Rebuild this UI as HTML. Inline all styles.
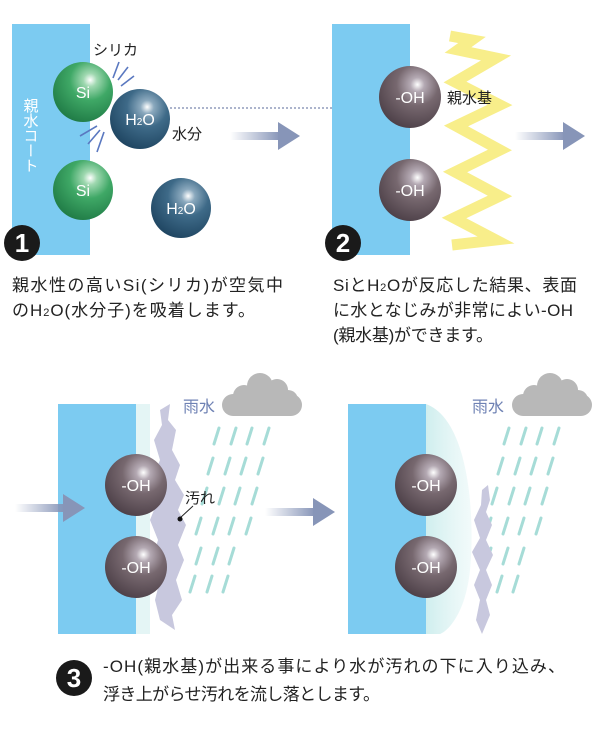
<!DOCTYPE html>
<html><head><meta charset="utf-8"><style>
body{margin:0;background:#fff;}
svg{display:block}
text{font-family:"Liberation Sans","Noto Sans CJK JP",sans-serif;}
</style></head><body>
<svg width="600" height="730" viewBox="0 0 600 730" xmlns="http://www.w3.org/2000/svg">
<defs>
<radialGradient id="g" cx="0.62" cy="0.3" r="0.75"><stop offset="0" stop-color="#fff"/><stop offset="0.15" stop-color="#9fd8b0"/><stop offset="0.45" stop-color="#3fa866"/><stop offset="1" stop-color="#1f7a45"/></radialGradient>
<radialGradient id="b" cx="0.62" cy="0.3" r="0.75"><stop offset="0" stop-color="#fff"/><stop offset="0.15" stop-color="#8aa8bd"/><stop offset="0.45" stop-color="#3e6a88"/><stop offset="1" stop-color="#1e4460"/></radialGradient>
<radialGradient id="o" cx="0.62" cy="0.3" r="0.75"><stop offset="0" stop-color="#fff"/><stop offset="0.15" stop-color="#b4a9b3"/><stop offset="0.45" stop-color="#77686f"/><stop offset="1" stop-color="#4c3f47"/></radialGradient>
<linearGradient id="ar" x1="0" x2="1"><stop offset="0" stop-color="#8795b8" stop-opacity="0"/><stop offset="1" stop-color="#8795b8"/></linearGradient>
<linearGradient id="wt" x1="0" x2="1"><stop offset="0" stop-color="#cfeeee"/><stop offset="1" stop-color="#e9f7f7" stop-opacity="0.6"/></linearGradient>
<g id="arrow"><rect x="0" y="-4" width="50" height="8" fill="url(#ar)"/><polygon points="48,-14 70,0 48,14" fill="#8795b8"/></g>
<g id="rain" stroke="#a6dcd7" stroke-width="3" stroke-linecap="round">
<line x1="219" y1="428" x2="214" y2="444"/><line x1="236" y1="428" x2="231" y2="444"/><line x1="252" y1="428" x2="247" y2="444"/><line x1="269" y1="428" x2="264" y2="444"/>
<line x1="213" y1="458" x2="208" y2="474"/><line x1="230" y1="458" x2="225" y2="474"/><line x1="246" y1="458" x2="241" y2="474"/><line x1="263" y1="458" x2="258" y2="474"/>
<line x1="207" y1="488" x2="202" y2="504"/><line x1="224" y1="488" x2="219" y2="504"/><line x1="240" y1="488" x2="235" y2="504"/><line x1="257" y1="488" x2="252" y2="504"/>
<line x1="201" y1="518" x2="196" y2="534"/><line x1="218" y1="518" x2="213" y2="534"/><line x1="234" y1="518" x2="229" y2="534"/><line x1="251" y1="518" x2="246" y2="534"/>
<line x1="201" y1="548" x2="196" y2="564"/><line x1="218" y1="548" x2="213" y2="564"/><line x1="234" y1="548" x2="229" y2="564"/>
<line x1="195" y1="576" x2="190" y2="592"/><line x1="212" y1="576" x2="207" y2="592"/><line x1="228" y1="576" x2="223" y2="592"/>
</g>
<g id="cloud" fill="#b8b8b8"><rect x="0" y="22" width="80" height="22" rx="11"/><circle cx="22" cy="24" r="11"/><circle cx="38" cy="14" r="13"/><circle cx="55" cy="18" r="11"/><circle cx="66" cy="28" r="10"/></g>
</defs>

<!-- Panel 1 -->
<rect x="12" y="24" width="78" height="231" fill="#7ccbf1"/>
<text x="30" y="98" font-size="15" fill="#fff" style="writing-mode:vertical-rl">親水コート</text>
<g stroke="#5a78c0" stroke-width="1.6" fill="none">
<line x1="113" y1="78" x2="119" y2="62"/><line x1="118" y1="80" x2="128" y2="67"/><line x1="121" y1="86" x2="134" y2="76"/>
<line x1="97" y1="126" x2="80" y2="136"/><line x1="100" y1="130" x2="88" y2="144"/><line x1="104" y1="132" x2="97" y2="152"/>
</g>
<line x1="170" y1="108" x2="372" y2="108" stroke="#5a6a9a" stroke-width="1" stroke-dasharray="2,2"/>
<polyline points="366,103 372,108 366,113" fill="none" stroke="#5a6a9a"/>
<circle cx="83" cy="92" r="30" fill="url(#g)"/>
<circle cx="83" cy="190" r="30" fill="url(#g)"/>
<circle cx="140" cy="119" r="30" fill="url(#b)"/>
<circle cx="181" cy="208" r="30" fill="url(#b)"/>
<g fill="#fff" font-size="16" text-anchor="middle">
<text x="83" y="98">Si</text><text x="83" y="196">Si</text>
<text x="140" y="125">H<tspan font-size="10">2</tspan>O</text><text x="181" y="214">H<tspan font-size="10">2</tspan>O</text>
</g>
<text x="93" y="55" font-size="15" fill="#222">シリカ</text>
<text x="172" y="139" font-size="15" fill="#222">水分</text>
<use href="#arrow" x="230" y="136"/>
<circle cx="22" cy="243" r="18" fill="#1a1a1a"/>
<text x="22" y="252" font-size="26" font-weight="bold" fill="#fff" text-anchor="middle">1</text>
<text x="12" y="291" font-size="17" fill="#222" textLength="271" lengthAdjust="spacing">親水性の高いSi(シリカ)が空気中</text>
<text x="12" y="316" font-size="17" fill="#222" textLength="243" lengthAdjust="spacing">のH<tspan font-size="11">2</tspan>O(水分子)を吸着します。</text>

<!-- Panel 2 -->
<rect x="332" y="24" width="78" height="231" fill="#7ccbf1"/>
<polyline points="450,36 472,40 458,50 496,58 455,82 500,105 456,126 500,150 455,172 500,196 454,218 496,240 452,245" fill="none" stroke="#f8ee8a" stroke-width="11" stroke-linejoin="miter" stroke-miterlimit="10"/>
<circle cx="410" cy="97" r="31" fill="url(#o)"/>
<circle cx="410" cy="190" r="31" fill="url(#o)"/>
<g fill="#fff" font-size="16" text-anchor="middle"><text x="410" y="103">-OH</text><text x="410" y="196">-OH</text></g>
<text x="447" y="103" font-size="15" fill="#222">親水基</text>
<use href="#arrow" x="515" y="136"/>
<circle cx="343" cy="243" r="18" fill="#1a1a1a"/>
<text x="343" y="252" font-size="26" font-weight="bold" fill="#fff" text-anchor="middle">2</text>
<text x="333" y="291" font-size="17" fill="#222" textLength="244" lengthAdjust="spacing">SiとH<tspan font-size="11">2</tspan>Oが反応した結果、表面</text>
<text x="333" y="316" font-size="17" fill="#222" textLength="240" lengthAdjust="spacing">に水となじみが非常によい-OH</text>
<text x="333" y="341" font-size="17" fill="#222" textLength="160" lengthAdjust="spacing">(親水基)ができます。</text>

<!-- Panel 3 left -->
<use href="#rain"/>
<rect x="58" y="404" width="78" height="230" fill="#7ccbf1"/>
<path d="M136,404 L150,404 L150,634 L136,634Z" fill="#e4f5f5"/>
<polygon points="160,410 170,404 168,420 176,430 172,450 180,465 175,480 184,495 178,510 186,525 178,545 184,560 176,580 182,600 172,615 175,630 160,620 155,600 160,580 152,560 158,540 150,520 158,500 152,480 160,460 154,440 162,425" fill="#c8c8de"/>
<circle cx="136" cy="485" r="31" fill="url(#o)"/>
<circle cx="136" cy="567" r="31" fill="url(#o)"/>
<g fill="#fff" font-size="16" text-anchor="middle"><text x="136" y="491">-OH</text><text x="136" y="573">-OH</text></g>
<text x="185" y="503" font-size="15" fill="#222">汚れ</text>
<line x1="180" y1="518" x2="193" y2="506" stroke="#222"/>
<circle cx="180" cy="519" r="2.5" fill="#111"/>
<text x="183" y="412" font-size="16" fill="#6f82b4">雨水</text>
<use href="#cloud" x="222" y="372"/>
<use href="#arrow" x="15" y="508"/>
<use href="#arrow" x="265" y="512"/>

<!-- Panel 3 right -->
<use href="#rain" x="290"/>
<rect x="348" y="404" width="78" height="230" fill="#7ccbf1"/>
<path d="M426,404 C470,420 475,520 470,570 C466,610 450,630 440,634 L426,634Z" fill="url(#wt)"/>
<polygon points="482,490 488,485 490,500 486,512 492,525 486,540 493,555 486,570 492,585 486,600 490,615 482,634 476,620 480,600 474,585 480,570 472,552 480,538 474,520 481,505" fill="#c8c8de"/>
<circle cx="426" cy="485" r="31" fill="url(#o)"/>
<circle cx="426" cy="567" r="31" fill="url(#o)"/>
<g fill="#fff" font-size="16" text-anchor="middle"><text x="426" y="491">-OH</text><text x="426" y="573">-OH</text></g>
<text x="472" y="412" font-size="16" fill="#6f82b4">雨水</text>
<use href="#cloud" x="512" y="372"/>

<circle cx="74" cy="678" r="18" fill="#1a1a1a"/>
<text x="74" y="687" font-size="26" font-weight="bold" fill="#fff" text-anchor="middle">3</text>
<text x="103" y="672" font-size="17" fill="#222" textLength="462" lengthAdjust="spacing">-OH(親水基)が出来る事により水が汚れの下に入り込み、</text>
<text x="103" y="700" font-size="17" fill="#222" textLength="277" lengthAdjust="spacing">浮き上がらせ汚れを流し落とします。</text>
</svg>
</body></html>
